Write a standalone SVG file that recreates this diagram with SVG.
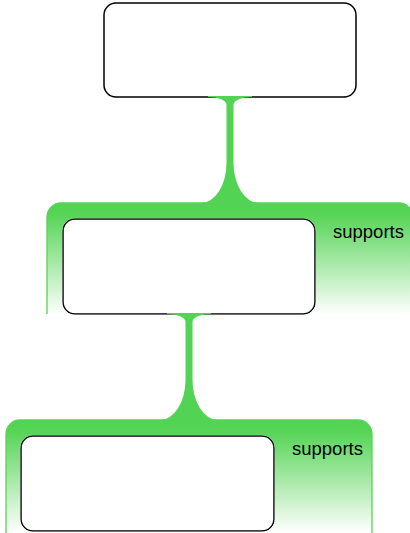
<svg xmlns="http://www.w3.org/2000/svg" width="410" height="533" viewBox="0 0 410 533">
<style>
.node{fill:#ffffff;stroke:#000000;stroke-width:1.5}
.cont{fill:url(#fade);fill-rule:evenodd;stroke:none}
.side{fill:none;stroke:#55d455;stroke-width:1.3}
.stem{fill:#53d353;stroke:none}
.lbl{font-family:"Liberation Sans",Arial,sans-serif;font-size:18.5px;fill:#000000}
</style>
<defs>
<linearGradient id="fade" x1="0" y1="0" x2="0" y2="1">
<stop offset="0" stop-color="#52d352"/>
<stop offset="0.1" stop-color="#56d456"/>
<stop offset="1" stop-color="#ffffff"/>
</linearGradient>
</defs>
<rect width="410" height="533" fill="#ffffff"/>
<g id="node1"><rect class="node" x="104" y="3" width="252" height="94" rx="12"/></g>
<g id="node2"><rect class="node" x="63" y="219" width="252" height="95" rx="12"/></g>
<g id="node3"><rect class="node" x="21" y="436" width="253" height="95" rx="12"/></g>
<g id="connectors">
<path class="cont" d="M47,315 V217 A14,14 0 0 1 61,203 H399 A14,14 0 0 1 413,217 V315 Z M75,218.25 H303 A12.75,12.75 0 0 1 315.75,231 V302 A12.75,12.75 0 0 1 303,314.75 H75 A12.75,12.75 0 0 1 62.25,302 V231 A12.75,12.75 0 0 1 75,218.25 Z"/>
<path class="side" d="M47,314 V217 A14,14 0 0 1 61,203 H399 A14,14 0 0 1 413,217 V314"/>
<path class="cont" d="M6,533 V434 A14,14 0 0 1 20,420 H358 A14,14 0 0 1 372,434 V533 Z M33,435.25 H262 A12.75,12.75 0 0 1 274.75,448 V519 A12.75,12.75 0 0 1 262,531.75 H33 A12.75,12.75 0 0 1 20.25,519 V448 A12.75,12.75 0 0 1 33,435.25 Z"/>
<path class="side" d="M6,533 V434 A14,14 0 0 1 20,420 H358 A14,14 0 0 1 372,434 V533"/>
<path class="stem" d="M208,96 H252 V97 A18,8 0 0 0 233.5,105 V163 A25.5,40 0 0 0 259,203 V205 H201 V203 A25.5,40 0 0 0 226.5,163 V105 A18,8 0 0 0 208,97 Z"/>
<path class="stem" d="M167,313 H211 V314 A18,8 0 0 0 192.5,322 V380 A25.5,40 0 0 0 218,420 V422 H160 V420 A25.5,40 0 0 0 185.5,380 V322 A18,8 0 0 0 167,314 Z"/>
<text class="lbl" x="333" y="238">supports</text>
<text class="lbl" x="292" y="455">supports</text>
</g>
</svg>
